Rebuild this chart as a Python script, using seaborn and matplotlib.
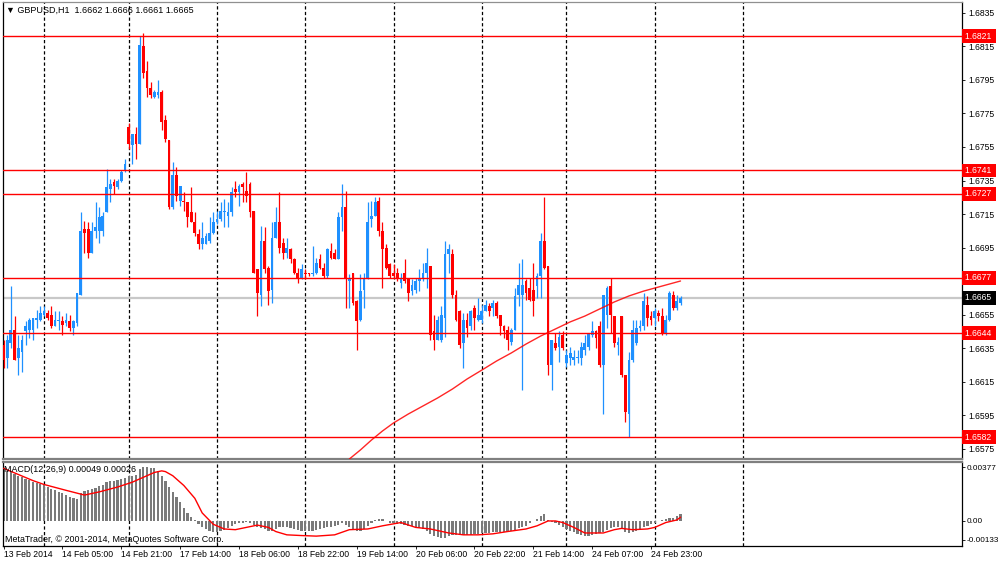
import matplotlib
matplotlib.use("Agg")
import matplotlib.pyplot as plt
import matplotlib.transforms as mtransforms
import numpy as np
import pandas as pd
import seaborn as sns

# ---------------- data ----------------
opens = [1.6637, 1.6629, 1.6638, 1.6646, 1.6629, 1.6633, 1.6645, 1.6646, 1.6646, 1.6652,
         1.6652, 1.6655, 1.6656, 1.6655, 1.6648, 1.6651, 1.6651, 1.6650, 1.6651, 1.6647,
         1.6650, 1.6667, 1.6706, 1.6706, 1.6692, 1.6705, 1.6705, 1.6705, 1.6716, 1.6730,
         1.6734, 1.6731, 1.6735, 1.6741, 1.6767, 1.6756, 1.6763, 1.6757, 1.6815, 1.6800,
         1.6790, 1.6785, 1.6786, 1.6788, 1.6771, 1.6759, 1.6719, 1.6738, 1.6723, 1.6723,
         1.6722, 1.6716, 1.6710, 1.6703, 1.6697, 1.6697, 1.6699, 1.6704, 1.6710, 1.6712,
         1.6716, 1.6714, 1.6716, 1.6730, 1.6728, 1.6733, 1.6729, 1.6733, 1.6717, 1.6682,
         1.6667, 1.6699, 1.6683, 1.6670, 1.6701, 1.6710, 1.6698, 1.6692, 1.6694, 1.6688,
         1.6680, 1.6677, 1.6680, 1.6680, 1.6679, 1.6680, 1.6688, 1.6683, 1.6678, 1.6693,
         1.6692, 1.6688, 1.6713, 1.6719, 1.6675, 1.6680, 1.6663, 1.6652, 1.6670, 1.6677,
         1.6712, 1.6714, 1.6723, 1.6705, 1.6695, 1.6685, 1.6680, 1.6680, 1.6674, 1.6680,
         1.6676, 1.6669, 1.6670, 1.6675, 1.6676, 1.6680, 1.6684, 1.6645, 1.6640, 1.6640,
         1.6653, 1.6691, 1.6691, 1.6667, 1.6657, 1.6638, 1.6652, 1.6648, 1.6659, 1.6652,
         1.6652, 1.6657, 1.6660, 1.6659, 1.6662, 1.6655, 1.6648, 1.6646, 1.6639, 1.6646,
         1.6667, 1.6667, 1.6675, 1.6671, 1.6670, 1.6672, 1.6678, 1.6699, 1.6684, 1.6625,
         1.6638, 1.6636, 1.6643, 1.6626, 1.6629, 1.6628, 1.6629, 1.6629, 1.6634, 1.6636,
         1.6643, 1.6645, 1.6648, 1.6625, 1.6655, 1.6672, 1.6654, 1.6637, 1.6654, 1.6619,
         1.6596, 1.6628, 1.6638, 1.6647, 1.6648, 1.6661, 1.6654, 1.6653, 1.6656, 1.6654,
         1.6644, 1.6652, 1.6667, 1.6659, 1.6662]
highs = [1.6640, 1.6643, 1.6672, 1.6654, 1.6643, 1.6643, 1.6651, 1.6653, 1.6653, 1.6658,
         1.6660, 1.6660, 1.6658, 1.6660, 1.6657, 1.6657, 1.6654, 1.6656, 1.6655, 1.6652,
         1.6668, 1.6716, 1.6711, 1.6710, 1.6710, 1.6722, 1.6719, 1.6716, 1.6742, 1.6736,
         1.6736, 1.6736, 1.6741, 1.6748, 1.6769, 1.6763, 1.6767, 1.6821, 1.6823, 1.6806,
         1.6794, 1.6789, 1.6795, 1.6789, 1.6774, 1.6759, 1.6746, 1.6743, 1.6732, 1.6728,
         1.6722, 1.6731, 1.6716, 1.6706, 1.6710, 1.6704, 1.6713, 1.6716, 1.6717, 1.6722,
         1.6724, 1.6722, 1.6731, 1.6735, 1.6733, 1.6734, 1.6740, 1.6734, 1.6717, 1.6682,
         1.6708, 1.6707, 1.6684, 1.6710, 1.6719, 1.6728, 1.6701, 1.6701, 1.6695, 1.6689,
         1.6683, 1.6685, 1.6682, 1.6680, 1.6696, 1.6689, 1.6691, 1.6686, 1.6695, 1.6698,
         1.6694, 1.6716, 1.6733, 1.6729, 1.6679, 1.6680, 1.6664, 1.6679, 1.6680, 1.6722,
         1.6723, 1.6725, 1.6725, 1.6710, 1.6697, 1.6686, 1.6685, 1.6683, 1.6680, 1.6688,
         1.6677, 1.6676, 1.6677, 1.6682, 1.6686, 1.6695, 1.6684, 1.6655, 1.6654, 1.6660,
         1.6699, 1.6697, 1.6694, 1.6670, 1.6658, 1.6656, 1.6656, 1.6658, 1.6661, 1.6665,
         1.6661, 1.6664, 1.6662, 1.6664, 1.6663, 1.6655, 1.6649, 1.6648, 1.6647, 1.6671,
         1.6686, 1.6688, 1.6676, 1.6677, 1.6686, 1.6680, 1.6704, 1.6725, 1.6684, 1.6640,
         1.6644, 1.6645, 1.6645, 1.6634, 1.6636, 1.6634, 1.6634, 1.6639, 1.6643, 1.6644,
         1.6651, 1.6646, 1.6651, 1.6667, 1.6672, 1.6677, 1.6654, 1.6642, 1.6654, 1.6619,
         1.6633, 1.6652, 1.6652, 1.6652, 1.6668, 1.6666, 1.6657, 1.6659, 1.6658, 1.6659,
         1.6655, 1.6669, 1.6669, 1.6667, 1.6666]
lows = [1.6623, 1.6623, 1.6635, 1.6628, 1.6619, 1.6621, 1.6637, 1.6641, 1.6640, 1.6647,
        1.6651, 1.6654, 1.6652, 1.6647, 1.6648, 1.6646, 1.6643, 1.6648, 1.6645, 1.6643,
        1.6648, 1.6667, 1.6692, 1.6689, 1.6692, 1.6701, 1.6698, 1.6702, 1.6716, 1.6722,
        1.6727, 1.6730, 1.6734, 1.6740, 1.6754, 1.6745, 1.6748, 1.6757, 1.6796, 1.6785,
        1.6784, 1.6784, 1.6784, 1.6765, 1.6758, 1.6718, 1.6718, 1.6723, 1.6720, 1.6717,
        1.6707, 1.6710, 1.6702, 1.6694, 1.6694, 1.6697, 1.6698, 1.6703, 1.6709, 1.6711,
        1.6707, 1.6707, 1.6714, 1.6725, 1.6720, 1.6722, 1.6722, 1.6713, 1.6680, 1.6654,
        1.6660, 1.6680, 1.6661, 1.6662, 1.6701, 1.6692, 1.6688, 1.6689, 1.6686, 1.6679,
        1.6674, 1.6676, 1.6676, 1.6678, 1.6678, 1.6679, 1.6682, 1.6677, 1.6677, 1.6688,
        1.6688, 1.6688, 1.6705, 1.6659, 1.6659, 1.6661, 1.6634, 1.6651, 1.6659, 1.6676,
        1.6707, 1.6714, 1.6702, 1.6671, 1.6682, 1.6677, 1.6677, 1.6675, 1.6671, 1.6674,
        1.6663, 1.6667, 1.6668, 1.6669, 1.6675, 1.6671, 1.6640, 1.6634, 1.6640, 1.6639,
        1.6642, 1.6680, 1.6665, 1.6651, 1.6635, 1.6623, 1.6642, 1.6646, 1.6646, 1.6651,
        1.6650, 1.6657, 1.6654, 1.6654, 1.6653, 1.6643, 1.6641, 1.6634, 1.6637, 1.6646,
        1.6660, 1.6610, 1.6664, 1.6663, 1.6654, 1.6665, 1.6665, 1.6682, 1.6619, 1.6610,
        1.6634, 1.6627, 1.6634, 1.6624, 1.6625, 1.6625, 1.6626, 1.6625, 1.6631, 1.6634,
        1.6642, 1.6635, 1.6624, 1.6596, 1.6647, 1.6644, 1.6636, 1.6631, 1.6618, 1.6591,
        1.6582, 1.6627, 1.6637, 1.6645, 1.6646, 1.6648, 1.6649, 1.6648, 1.6651, 1.6643,
        1.6643, 1.6651, 1.6658, 1.6658, 1.6661]
closes = [1.6628, 1.6640, 1.6646, 1.6628, 1.6635, 1.6640, 1.6648, 1.6652, 1.6653, 1.6653,
          1.6656, 1.6657, 1.6653, 1.6648, 1.6652, 1.6652, 1.6649, 1.6652, 1.6647, 1.6651,
          1.6668, 1.6705, 1.6704, 1.6692, 1.6705, 1.6707, 1.6713, 1.6714, 1.6731, 1.6733,
          1.6732, 1.6735, 1.6740, 1.6745, 1.6757, 1.6763, 1.6757, 1.6816, 1.6799, 1.6790,
          1.6786, 1.6788, 1.6788, 1.6770, 1.6760, 1.6719, 1.6738, 1.6726, 1.6732, 1.6722,
          1.6713, 1.6710, 1.6704, 1.6697, 1.6701, 1.6702, 1.6704, 1.6710, 1.6712, 1.6717,
          1.6717, 1.6716, 1.6728, 1.6728, 1.6732, 1.6731, 1.6726, 1.6716, 1.6680, 1.6668,
          1.6699, 1.6682, 1.6669, 1.6701, 1.6710, 1.6695, 1.6692, 1.6695, 1.6688, 1.6680,
          1.6677, 1.6682, 1.6679, 1.6679, 1.6680, 1.6686, 1.6683, 1.6678, 1.6694, 1.6689,
          1.6688, 1.6713, 1.6719, 1.6676, 1.6676, 1.6662, 1.6651, 1.6669, 1.6676, 1.6710,
          1.6714, 1.6722, 1.6705, 1.6694, 1.6683, 1.6678, 1.6678, 1.6676, 1.6677, 1.6675,
          1.6668, 1.6673, 1.6675, 1.6676, 1.6680, 1.6686, 1.6643, 1.6640, 1.6652, 1.6655,
          1.6691, 1.6694, 1.6667, 1.6652, 1.6637, 1.6652, 1.6647, 1.6657, 1.6653, 1.6655,
          1.6657, 1.6661, 1.6657, 1.6662, 1.6654, 1.6648, 1.6645, 1.6640, 1.6646, 1.6666,
          1.6673, 1.6673, 1.6668, 1.6664, 1.6663, 1.6678, 1.6699, 1.6683, 1.6625, 1.6640,
          1.6635, 1.6642, 1.6635, 1.6631, 1.6632, 1.6630, 1.6630, 1.6636, 1.6638, 1.6644,
          1.6645, 1.6641, 1.6625, 1.6667, 1.6671, 1.6655, 1.6638, 1.6639, 1.6619, 1.6597,
          1.6628, 1.6646, 1.6647, 1.6648, 1.6663, 1.6653, 1.6652, 1.6657, 1.6654, 1.6644,
          1.6652, 1.6668, 1.6659, 1.6663, 1.6665]

# moving average (read points)
ma_bars = [94, 97, 100, 103, 106, 110, 114, 118, 122, 126, 130, 134, 138, 142, 146,
           150, 154, 158, 162, 166, 170, 174, 178, 181, 184]
ma_values = [1.65690, 1.65744, 1.65803, 1.65857, 1.65905, 1.65958, 1.66006, 1.66054,
             1.66107, 1.66167, 1.66220, 1.66274, 1.66322, 1.66375, 1.66423, 1.66465,
             1.66507, 1.66542, 1.66584, 1.66626, 1.66662, 1.66691, 1.66715, 1.66733, 1.66751]

# MACD main (histogram)
macd_main = [0.00368, 0.00350, 0.00339, 0.00327, 0.00316, 0.00305, 0.00293, 0.00287, 0.00275, 0.00266,
             0.00255, 0.00248, 0.00237, 0.00226, 0.00214, 0.00203, 0.00192, 0.00181, 0.00169, 0.00158,
             0.00151, 0.00192, 0.00210, 0.00214, 0.00226, 0.00233, 0.00242, 0.00248, 0.00271, 0.00278,
             0.00282, 0.00289, 0.00293, 0.00300, 0.00316, 0.00316, 0.00323, 0.00361, 0.00377, 0.00377,
             0.00372, 0.00368, 0.00350, 0.00316, 0.00282, 0.00237, 0.00203, 0.00165, 0.00129, 0.00090,
             0.00056, 0.00029, 0.00005, -0.00023, -0.00045, -0.00056, -0.00068, -0.00074, -0.00074, -0.00068,
             -0.00061, -0.00052, -0.00034, -0.00023, -0.00016, -0.00011, -0.00007, -0.00011, -0.00027, -0.00045,
             -0.00052, -0.00056, -0.00068, -0.00068, -0.00056, -0.00045, -0.00045, -0.00045, -0.00050, -0.00056,
             -0.00063, -0.00068, -0.00068, -0.00068, -0.00068, -0.00061, -0.00056, -0.00050, -0.00041, -0.00041,
             -0.00034, -0.00027, -0.00016, -0.00029, -0.00045, -0.00056, -0.00068, -0.00068, -0.00056, -0.00034,
             -0.00016, 0.00007, 0.00016, 0.00011, 0.00000, -0.00011, -0.00016, -0.00018, -0.00023, -0.00027,
             -0.00034, -0.00038, -0.00045, -0.00050, -0.00056, -0.00068, -0.00090, -0.00102, -0.00113, -0.00117,
             -0.00120, -0.00106, -0.00097, -0.00097, -0.00097, -0.00097, -0.00097, -0.00095, -0.00093, -0.00090,
             -0.00086, -0.00084, -0.00081, -0.00079, -0.00077, -0.00074, -0.00074, -0.00072, -0.00068, -0.00061,
             -0.00052, -0.00045, -0.00034, -0.00015, 0.00000, 0.00015, 0.00032, 0.00050, 0.00010, -0.00005,
             -0.00016, -0.00029, -0.00045, -0.00056, -0.00068, -0.00079, -0.00090, -0.00097, -0.00102, -0.00102,
             -0.00097, -0.00093, -0.00084, -0.00074, -0.00061, -0.00052, -0.00045, -0.00045, -0.00056, -0.00074,
             -0.00084, -0.00079, -0.00068, -0.00056, -0.00045, -0.00034, -0.00023, -0.00011, 0.00000, 0.00007,
             0.00016, 0.00018, 0.00023, 0.00034, 0.00049]

# MACD signal (read points)
signal_bars = [0, 8, 11, 17, 22, 26, 31, 35, 38, 41, 43, 44, 46, 49, 52, 54, 57, 60, 63, 66,
               69, 72, 74, 77, 81, 85, 90, 94, 99, 103, 108, 112, 116, 121, 125, 129, 133, 137,
               142, 145, 148, 150, 152, 155, 158, 163, 166, 168, 171, 175, 177, 180, 183, 184]
signal_values = [0.00368, 0.00282, 0.00255, 0.00214, 0.00181, 0.00203, 0.00237, 0.00271, 0.00305,
                 0.00339, 0.00350, 0.00345, 0.00316, 0.00248, 0.00158, 0.00056, -0.00023, -0.00056,
                 -0.00061, -0.00045, -0.00029, -0.00045, -0.00074, -0.00097, -0.00102, -0.00106,
                 -0.00097, -0.00061, -0.00056, -0.00034, -0.00011, -0.00045, -0.00056, -0.00084,
                 -0.00097, -0.00097, -0.00090, -0.00074, -0.00056, -0.00034, 0.00000, 0.00000,
                 -0.00011, -0.00045, -0.00084, -0.00084, -0.00061, -0.00052, -0.00061, -0.00056,
                 -0.00045, -0.00011, 0.00007, 0.00026]

level_prices = [1.6821, 1.6741, 1.6727, 1.6677, 1.6644, 1.6582]
bid_price = 1.6665
price_ticks = [1.6835, 1.6815, 1.6795, 1.6775, 1.6755, 1.6735, 1.6715, 1.6695,
               1.6675, 1.6655, 1.6635, 1.6615, 1.6595, 1.6575]
hidden_tick = 1.6675   # covered by the 1.6677 level label in the reference
macd_ticks = [0.00377, 0.0, -0.00133]
macd_tick_labels = ["0.00377", "0.00", "-0.00133"]
day_start_bars = [11, 34, 58, 82, 106, 130, 153, 177, 201]
time_label_bars = [0, 16, 32, 48, 64, 80, 96, 112, 128, 144, 160, 176]
time_labels = ["13 Feb 2014", "14 Feb 05:00", "14 Feb 21:00", "17 Feb 14:00",
               "18 Feb 06:00", "18 Feb 22:00", "19 Feb 14:00", "20 Feb 06:00",
               "20 Feb 22:00", "21 Feb 14:00", "24 Feb 07:00", "24 Feb 23:00"]
header_text = "\u25BC GBPUSD,H1  1.6662 1.6666 1.6661 1.6665"
macd_text = "MACD(12,26,9) 0.00049 0.00026"
copyright_text = "MetaTrader, \u00A9 2001-2014, MetaQuotes Software Corp."

# ---------------- style ----------------
sns.set_theme(style="white")
plt.rcParams['font.family'] = ['Liberation Sans', 'DejaVu Sans']

BLUE = "#1E90FF"
RED = "#FF0000"
FS = 6.2

fig = plt.figure(figsize=(10, 5.61), dpi=100)
fig.patch.set_facecolor("white")
ax = fig.add_axes([0.003, 1 - 459 / 561, 0.959, 457 / 561])
axm = fig.add_axes([0.003, 15 / 561, 0.959, 84 / 561], sharex=ax)

df = pd.DataFrame({"open": opens, "high": highs, "low": lows, "close": closes})
df["bar"] = np.arange(len(df))
o, h, l, c = (df[k].to_numpy() for k in ("open", "high", "low", "close"))
up = c >= o
cols = np.where(up, BLUE, RED)

# separators
dash = (0, (2.6, 1.9))
for b in day_start_bars:
    ax.axvline(b, color="black", lw=0.9, ls=dash, zorder=1)
    axm.axvline(b, color="black", lw=0.9, ls=dash, zorder=1)

# bid line
ax.axhline(bid_price, color="#C8C8C8", lw=1.6, zorder=2)

# candles
ax.vlines(df["bar"], np.minimum(l, np.minimum(o, c)), np.maximum(h, np.maximum(o, c)),
          colors=cols, lw=0.9, zorder=3)
body = np.maximum(np.abs(c - o), 0.00006)
ax.bar(df["bar"], body, bottom=np.minimum(o, c), width=0.75, color=cols, lw=0, zorder=3.1)

# moving average
sns.lineplot(x=ma_bars, y=ma_values, ax=ax, color=RED, lw=1.0, alpha=0.85, zorder=4)

# level lines
for lv in level_prices:
    ax.axhline(lv, color=RED, lw=1.0, zorder=4)

ax.set_xlim(-0.14, 260.5)
ax.set_ylim(1.65690, 1.68414)
ax.set_xlabel("")
ax.set_ylabel("")

ax.yaxis.tick_right()
ax.set_yticks(price_ticks)
ax.set_yticklabels(["" if v == hidden_tick else f"{v:.4f}" for v in price_ticks])
ax.tick_params(axis="y", right=True, left=False, labelright=True, labelleft=False,
               direction="out", length=2.5, width=0.6, pad=1.8, labelsize=FS,
               colors="black")
ax.tick_params(axis="x", bottom=False, labelbottom=False, top=False)

trans = mtransforms.blended_transform_factory(ax.transAxes, ax.transData)
for lv in level_prices:
    ax.text(1.003, lv, f"{lv:.4f} ", transform=trans, ha="left", va="center",
            fontsize=FS, color="white", zorder=6, clip_on=False,
            bbox=dict(boxstyle="square,pad=0.28", fc=RED, ec="none"))
ax.text(1.003, bid_price, f"{bid_price:.4f} ", transform=trans, ha="left", va="center",
        fontsize=FS, color="white", zorder=6, clip_on=False,
        bbox=dict(boxstyle="square,pad=0.28", fc="black", ec="none"))

for side, sp in ax.spines.items():
    sp.set_visible(True)
    sp.set_linewidth(0.9)
    sp.set_color("black")
ax.spines["top"].set_color("#909090")
ax.spines["bottom"].set_color("#808080")
ax.spines["bottom"].set_linewidth(1.6)

# MACD panel
axm.bar(df["bar"], macd_main, width=0.6, color="#7A7A7A", lw=0, zorder=2)
sns.lineplot(x=signal_bars, y=signal_values, ax=axm, color=RED, lw=1.0, zorder=3)
axm.set_ylim(-0.00175, 0.00412)
axm.set_xlabel("")
axm.set_ylabel("")
axm.yaxis.tick_right()
axm.set_yticks(macd_ticks)
axm.set_yticklabels(macd_tick_labels)
axm.tick_params(axis="y", right=True, left=False, labelright=True, labelleft=False,
                direction="out", length=2.0, width=0.6, pad=1.0, labelsize=5.9,
                colors="black")
axm.set_xticks(time_label_bars)
axm.set_xticklabels(time_labels, ha="left")
axm.tick_params(axis="x", bottom=True, direction="out", length=2.2, width=0.6,
                pad=0.8, labelsize=FS, colors="black")
for side, sp in axm.spines.items():
    sp.set_visible(True)
    sp.set_linewidth(0.9)
    sp.set_color("black")
axm.spines["top"].set_color("#808080")
axm.spines["top"].set_linewidth(1.6)

fig.text(6 / 1000, 1 - 10 / 561, header_text, fontsize=FS + 0.3, va="center", ha="left",
         color="black")
fig.text(4 / 1000, 1 - 470 / 561, macd_text, fontsize=FS + 0.2, va="center", ha="left",
         color="black")
fig.text(5 / 1000, 1 - 539 / 561, copyright_text, fontsize=FS + 0.2, va="center", ha="left",
         color="black")

fig.savefig("out.png", dpi=100, facecolor="white")
